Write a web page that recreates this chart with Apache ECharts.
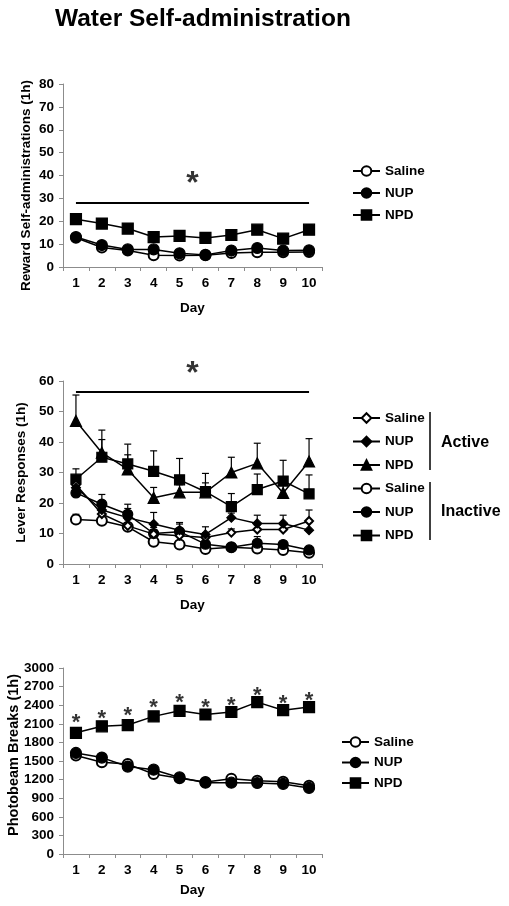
<!DOCTYPE html>
<html><head><meta charset="utf-8">
<script src="https://cdn.jsdelivr.net/npm/echarts@6/dist/echarts.min.js"></script>
<style>html,body{margin:0;padding:0;background:#fff}#c{width:509px;height:906px}</style>
</head><body><div id="c"></div>
<script>
// ---------- data ----------
const days = ['1','2','3','4','5','6','7','8','9','10'];
const dayNums = [1,2,3,4,5,6,7,8,9,10];

// Panel 1: Reward self-administrations (1h)
const rewardSaline = [12.8, 8.5, 7.2, 5.1, 5.0, 5.1, 6.1, 6.4, 6.4, 6.6];
const rewardSalineErr = [0.8, 0.7, 0.6, 0.5, 0.5, 0.5, 0.6, 0.6, 0.6, 0.6];
const rewardNUP = [13.1, 9.6, 7.7, 7.7, 6.0, 5.3, 7.2, 8.3, 7.2, 7.3];
const rewardNUPErr = [1.0, 0.8, 0.7, 0.6, 0.5, 0.4, 0.6, 0.7, 0.6, 0.6];
const rewardNPD = [20.9, 19.0, 16.8, 13.1, 13.6, 12.7, 14.0, 16.3, 12.4, 16.3];
const rewardNPDErr = [1.2, 1.0, 1.0, 0.8, 0.8, 0.8, 1.0, 1.0, 0.9, 2.2];
const rewardSigLine = 28;
const rewardStar = 39.3;

// Panel 2: Lever responses (1h)
const actSaline = [26.0, 16.4, 12.5, 9.8, 9.3, 8.7, 10.3, 11.3, 11.3, 14.1];
const actSalineErr = [2.5, 2.0, 2.0, 1.5, 2.0, 1.5, 1.2, 1.5, 1.5, 3.6];
const actNUP = [25.0, 17.7, 15.2, 13.1, 11.1, 9.7, 15.2, 13.3, 13.3, 11.1];
const actNUPErr = [3.0, 3.0, 3.0, 3.8, 2.5, 2.5, 1.5, 2.7, 2.7, 2.5];
const actNPD = [46.9, 36.5, 31.0, 21.7, 23.5, 23.5, 30.0, 33.0, 23.3, 33.6];
const actNPDErr = [8.5, 7.4, 4.8, 3.4, 2.5, 3.1, 5.0, 6.6, 3.0, 7.5];
const inSaline = [14.6, 14.2, 12.2, 7.3, 6.4, 4.9, 5.5, 5.1, 4.6, 3.7];
const inSalineErr = [1.7, 1.0, 0.8, 0.7, 0.6, 0.5, 0.6, 0.5, 0.5, 0.5];
const inNUP = [23.3, 19.6, 16.3, 10.0, 10.6, 6.5, 5.5, 6.8, 6.4, 4.6];
const inNUPErr = [2.5, 3.2, 3.3, 2.0, 2.5, 2.2, 0.8, 2.2, 1.0, 0.8];
const inNPD = [27.8, 35.0, 32.8, 30.4, 27.6, 23.7, 18.8, 24.4, 27.2, 23.0];
const inNPDErr = [3.4, 5.8, 6.5, 6.7, 7.0, 6.0, 4.3, 5.1, 6.8, 6.2];
const leverSigLine = 56.4;
const leverStar = 64.5;

// Panel 3: Photobeam breaks (1h)
const beamSaline = [1590, 1480, 1450, 1290, 1220, 1160, 1215, 1180, 1165, 1100];
const beamSalineErr = [40, 30, 50, 30, 30, 30, 50, 50, 50, 40];
const beamNUP = [1630, 1555, 1410, 1360, 1235, 1150, 1150, 1145, 1130, 1065];
const beamNUPErr = [40, 40, 40, 30, 30, 30, 40, 40, 40, 30];
const beamNPD = [1955, 2060, 2080, 2220, 2310, 2250, 2290, 2450, 2320, 2370];
const beamNPDErr = [50, 40, 50, 50, 40, 40, 50, 50, 50, 50];
const beamStars = [2190, 2255, 2310, 2430, 2515, 2430, 2475, 2635, 2495, 2550];

// ---------- chart ----------
const FONT = 'Liberation Sans';
const chart = echarts.init(document.getElementById('c'), null, {renderer: 'canvas'});

function errRender(params, api) {
  const x = api.value(0), lo = api.value(1), hi = api.value(2);
  const p0 = api.coord([x, lo]), p1 = api.coord([x, hi]);
  const w = 3.5;
  return {type: 'group', children: [
    {type: 'line', shape: {x1: p0[0], y1: p0[1], x2: p1[0], y2: p1[1]}, style: {stroke: '#000', lineWidth: 1.2}},
    {type: 'line', shape: {x1: p1[0] - w, y1: p1[1], x2: p1[0] + w, y2: p1[1]}, style: {stroke: '#000', lineWidth: 1.2}}
  ]};
}
function errSeries(vals, errs, xi, yi) {
  return {type: 'custom', xAxisIndex: xi, yAxisIndex: yi, z: 1, silent: true,
    renderItem: errRender, data: vals.map((v, i) => [i, v, v + errs[i]])};
}
function lineSeries(name, vals, symbol, size, xi, yi) {
  return {type: 'line', name: name, xAxisIndex: xi, yAxisIndex: yi, data: vals, z: 3,
    symbol: symbol, symbolSize: size, showAllSymbol: true,
    lineStyle: {color: '#000', width: 1.5},
    itemStyle: {color: '#000', borderColor: '#000', borderWidth: 1.2},
    emphasis: {disabled: true}, animation: false};
}
function starSeries(pts, xi, yi, fs) {
  return {type: 'scatter', xAxisIndex: xi, yAxisIndex: yi, clip: false, z: 4, silent: true,
    symbolSize: 1, itemStyle: {color: 'transparent'},
    label: {show: true, position: 'inside', formatter: '*', fontFamily: FONT, fontWeight: 'bold',
      fontSize: fs, color: '#000', offset: [0, Math.round(fs * 0.21)]},
    data: pts, animation: false};
}
function sigLine(y, xi, yi) {
  return {type: 'line', xAxisIndex: xi, yAxisIndex: yi, symbol: 'none', z: 2, silent: true,
    lineStyle: {color: '#000', width: 2}, data: [[dayNums[0], y], [dayNums[dayNums.length - 1], y]], animation: false};
}

const grids = [
  {left: 63, top: 84, width: 259, height: 183, outerBoundsMode: 'none', containLabel: false},
  {left: 63, top: 381, width: 259, height: 183, outerBoundsMode: 'none', containLabel: false},
  {left: 63, top: 668, width: 259, height: 186, outerBoundsMode: 'none', containLabel: false}
];
const axisCol = '#8c8c8c';
function catAxis(gi, gap) {
  return {type: 'category', gridIndex: gi, data: days, boundaryGap: true,
    name: 'Day', nameLocation: 'middle', nameGap: gap, nameMoveOverlap: false,
    nameTextStyle: {fontFamily: FONT, fontWeight: 'bold', fontSize: 13.5, color: '#000'},
    axisLine: {lineStyle: {color: axisCol, width: 1}},
    axisTick: {show: true, length: 4, lineStyle: {color: axisCol}},
    axisLabel: {fontFamily: FONT, fontWeight: 'bold', fontSize: 13.5, color: '#000', margin: 9},
    splitLine: {show: false}};
}
function hidAxis(gi) {
  return {type: 'value', gridIndex: gi, min: 0.5, max: 10.5, show: false};
}
function valAxis(gi, max, interval, name, gap, fs, pad) {
  return {type: 'value', gridIndex: gi, min: 0, max: max, interval: interval,
    name: name, nameLocation: 'middle', nameGap: gap, nameMoveOverlap: false,
    nameTextStyle: {fontFamily: FONT, fontWeight: 'bold', fontSize: fs, color: '#000', padding: pad},
    axisLine: {show: true, lineStyle: {color: axisCol, width: 1}},
    axisTick: {show: true, length: 4, lineStyle: {color: axisCol}},
    axisLabel: {fontFamily: FONT, fontWeight: 'bold', fontSize: 13.5, color: '#000', margin: 9,
      formatter: v => String(v)},
    splitLine: {show: false}};
}
const legText = {fontFamily: FONT, fontWeight: 'bold', fontSize: 13.5, color: '#000'};
function legend(left, top, gap, names, ih) {
  return {orient: 'vertical', left: left, top: top, itemWidth: 27, itemHeight: ih, itemGap: gap,
    padding: 0, selectedMode: false, textStyle: legText, data: names};
}

const option = {
  animation: false,
  backgroundColor: '#fff',
  title: {text: 'Water Self-administration', left: 55, top: 7, padding: 0,
    textStyle: {fontFamily: FONT, fontWeight: 'bold', fontSize: 24.5, color: '#000'}},
  grid: grids,
  xAxis: [catAxis(0, 34), catAxis(1, 34), catAxis(2, 29), hidAxis(0), hidAxis(1)],
  yAxis: [
    valAxis(0, 80, 10, 'Reward Self-administrations (1h)', 30, 13.5, [0, 20, 0, 0]),
    valAxis(1, 60, 10, 'Lever Responses (1h)', 34.5, 13.5, [0, 0, 0, 0]),
    valAxis(2, 3000, 300, 'Photobeam Breaks (1h)', 41.5, 14.5, [0, 0, 0, 12])
  ],
  legend: [
    legend(352, 164, 8, ['Saline', 'NUP', 'NPD'], 12),
    legend(352, 411, 9.5, ['Saline ', 'NUP ', 'NPD ', 'Saline  ', 'NUP  ', 'NPD  '], 12),
    legend(341, 735, 6.5, ['Saline   ', 'NUP   ', 'NPD   '], 12)
  ],
  graphic: [
    {type: 'line', shape: {x1: 430, y1: 412, x2: 430, y2: 470}, style: {stroke: '#000', lineWidth: 1.5}},
    {type: 'line', shape: {x1: 430, y1: 482, x2: 430, y2: 540}, style: {stroke: '#000', lineWidth: 1.5}},
    {type: 'text', left: 441, top: 435, style: {text: 'Active', font: 'bold 16px "Liberation Sans"', fill: '#000'}},
    {type: 'text', left: 441, top: 504, style: {text: 'Inactive', font: 'bold 16px "Liberation Sans"', fill: '#000'}}
  ],
  series: [
    // panel 1
    errSeries(rewardSaline, rewardSalineErr, 0, 0),
    errSeries(rewardNUP, rewardNUPErr, 0, 0),
    errSeries(rewardNPD, rewardNPDErr, 0, 0),
    lineSeries('Saline', rewardSaline, 'emptyCircle', 10, 0, 0),
    lineSeries('NUP', rewardNUP, 'circle', 11, 0, 0),
    lineSeries('NPD', rewardNPD, 'rect', 11, 0, 0),
    sigLine(rewardSigLine, 3, 0),
    starSeries([[5.5, rewardStar]], 3, 0, 32),
    // panel 2
    errSeries(actSaline, actSalineErr, 1, 1),
    errSeries(actNUP, actNUPErr, 1, 1),
    errSeries(actNPD, actNPDErr, 1, 1),
    errSeries(inSaline, inSalineErr, 1, 1),
    errSeries(inNUP, inNUPErr, 1, 1),
    errSeries(inNPD, inNPDErr, 1, 1),
    lineSeries('Saline  ', inSaline, 'emptyCircle', 10, 1, 1),
    lineSeries('NUP  ', inNUP, 'circle', 10, 1, 1),
    lineSeries('NPD  ', inNPD, 'rect', 10, 1, 1),
    lineSeries('Saline ', actSaline, 'emptyDiamond', 8, 1, 1),
    lineSeries('NUP ', actNUP, 'diamond', 9, 1, 1),
    lineSeries('NPD ', actNPD, 'triangle', 11, 1, 1),
    sigLine(leverSigLine, 4, 1),
    starSeries([[5.5, leverStar]], 4, 1, 32),
    // panel 3
    errSeries(beamSaline, beamSalineErr, 2, 2),
    errSeries(beamNUP, beamNUPErr, 2, 2),
    errSeries(beamNPD, beamNPDErr, 2, 2),
    lineSeries('Saline   ', beamSaline, 'emptyCircle', 10, 2, 2),
    lineSeries('NUP   ', beamNUP, 'circle', 11, 2, 2),
    lineSeries('NPD   ', beamNPD, 'rect', 11, 2, 2),
    starSeries(beamStars.map((v, i) => [i, v]), 2, 2, 22)
  ]
};
chart.setOption(option);
</script>
</body></html>
